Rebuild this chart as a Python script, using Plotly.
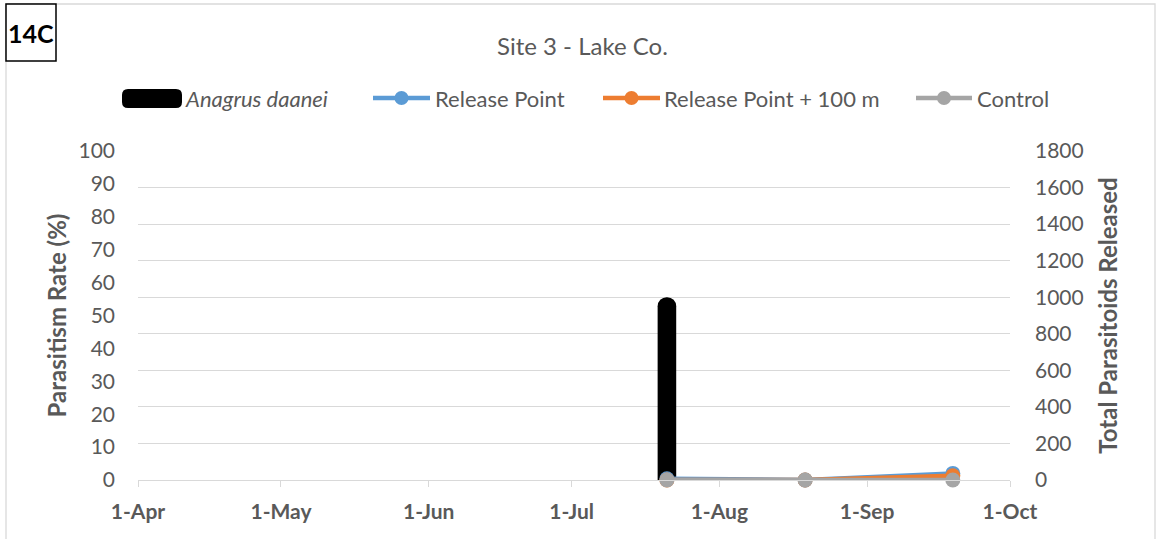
import plotly.graph_objects as go

# Parasitoid release at Site 3 (Lake Co.)
release_dates = ["2019-07-21"]
parasitoids_released = [1000]

survey_dates = ["2019-07-21", "2019-08-19", "2019-09-19"]
release_point = [0.4, 0.0, 2.0]
release_point_100m = [0.0, 0.0, 1.3]
control = [0.0, 0.0, 0.0]

series_names = ["Release Point", "Release Point + 100 m", "Control"]
series_values = [release_point, release_point_100m, control]
series_colors = ["#5B9BD5", "#ED7D31", "#A5A5A5"]

W, H = 1158, 539
L, R, T, B = 138, 1010, 151, 480
TXT = "#595959"
GRID = "#D9D9D9"
FONT = "Lato"


def px(x):
    return (x - L) / (R - L)


def py(y):
    return (B - y) / (B - T)


fig = go.Figure()

# released parasitoids, on the right-hand axis
fig.add_trace(go.Bar(
    x=release_dates, y=parasitoids_released, yaxis="y",
    width=3.9 * 86400000, marker=dict(color="black", cornerradius=9, line_width=0),
    name="Anagrus daanei", showlegend=False, cliponaxis=False,
))

# parasitism rate series, on the left-hand axis
for name, vals, col in zip(series_names, series_values, series_colors):
    fig.add_trace(go.Scatter(
        x=survey_dates, y=vals, yaxis="y2", mode="lines+markers", name=name,
        line=dict(color=col, width=4.5), marker=dict(color=col, size=15),
        showlegend=False, cliponaxis=False,
    ))

shapes = []
annotations = []


def label(text, x, y, size, color=TXT, xanchor="center"):
    annotations.append(dict(text=text, x=px(x), y=py(y), xref="paper", yref="paper",
                            xanchor=xanchor, yanchor="middle", showarrow=False,
                            font=dict(family=FONT, size=size, color=color)))


# outer chart frame
shapes.append(dict(type="rect", xref="paper", yref="paper",
                   x0=px(6), x1=px(1155), y0=py(560), y1=py(4),
                   line=dict(color="#D9D9D9", width=1.3), layer="below"))
# panel label box
shapes.append(dict(type="rect", xref="paper", yref="paper",
                   x0=px(6), x1=px(56), y0=py(61), y1=py(4),
                   line=dict(color="black", width=1.5), fillcolor="white"))
label("<b>14C</b>", 31, 33, 25, color="black")

# chart title
label("Site 3 - Lake Co.", 582, 45, 24)

# legend
LY = 98
x0, x1, r = 122, 182, 6
y0, y1 = 89, 108
path = (f"M {px(x0 + r)} {py(y0)} L {px(x1 - r)} {py(y0)} "
        f"Q {px(x1)} {py(y0)} {px(x1)} {py(y0 + r)} L {px(x1)} {py(y1 - r)} "
        f"Q {px(x1)} {py(y1)} {px(x1 - r)} {py(y1)} L {px(x0 + r)} {py(y1)} "
        f"Q {px(x0)} {py(y1)} {px(x0)} {py(y1 - r)} L {px(x0)} {py(y0 + r)} "
        f"Q {px(x0)} {py(y0)} {px(x0 + r)} {py(y0)} Z")
shapes.append(dict(type="path", xref="paper", yref="paper", path=path,
                   fillcolor="black", line=dict(width=0)))
label("<i>Anagrus daanei</i>", 183, LY, 22, xanchor="left")

legend_pos = [(373, 430, 433), (603, 660, 662), (916, 972, 975)]
for (a, b, t), name, col in zip(legend_pos, series_names, series_colors):
    shapes.append(dict(type="line", xref="paper", yref="paper", x0=px(a), x1=px(b),
                       y0=py(LY), y1=py(LY), line=dict(color=col, width=4.5)))
    shapes.append(dict(type="circle", xref="paper", yref="paper", xsizemode="pixel", ysizemode="pixel",
                       xanchor=px((a + b) / 2), yanchor=py(LY), x0=-7, x1=7, y0=-7, y1=7,
                       fillcolor=col, line=dict(width=0)))
    label(name, t, LY, 22, xanchor="left")

fig.update_layout(
    width=W, height=H,
    margin=dict(l=L, r=W - R, t=T, b=H - B, pad=0),
    paper_bgcolor="white", plot_bgcolor="white",
    showlegend=False,
    font=dict(family=FONT, color=TXT),
    xaxis=dict(
        type="date", range=["2019-04-01", "2019-10-01"],
        tick0="2019-04-01", dtick="M1", tickformat="%-d-%b",
        tickfont=dict(family=FONT, size=21, color=TXT, weight="bold"),
        ticks="outside", ticklen=6, tickcolor=GRID, tickwidth=1.3,
        showline=True, linecolor=GRID, linewidth=1.3,
        showgrid=False, zeroline=False, ticklabelstandoff=7,
    ),
    yaxis=dict(
        side="right", range=[0, 1800], dtick=200,
        showgrid=True, gridcolor=GRID, gridwidth=1.3,
        zeroline=False, showline=False, ticks="",
        tickfont=dict(family=FONT, size=21, color=TXT),
        ticklabelstandoff=24,
        title=dict(text="Total Parasitoids Released", standoff=17,
                   font=dict(family=FONT, size=24, color=TXT, weight="bold")),
    ),
    yaxis2=dict(
        side="left", overlaying="y", range=[0, 100], dtick=10,
        showgrid=False, zeroline=False, showline=False, ticks="",
        tickfont=dict(family=FONT, size=21, color=TXT),
        ticklabelstandoff=22,
        title=dict(text="Parasitism Rate (%)", standoff=5,
                   font=dict(family=FONT, size=24, color=TXT, weight="bold")),
    ),
    shapes=shapes,
    annotations=annotations,
)

fig.write_html("out.html")
